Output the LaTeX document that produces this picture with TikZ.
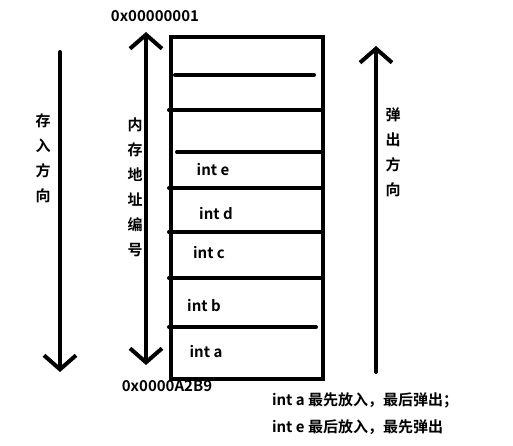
\documentclass[tikz,border=0pt]{standalone}
\usepackage{fontspec}
\setmainfont{Noto Sans CJK SC}[BoldFont={Noto Sans CJK SC Bold}]
\usetikzlibrary{arrows.meta}

\begin{document}
\begin{tikzpicture}[x=1pt, y=-1pt, line width=4pt, line cap=round,
    every node/.style={inner sep=0pt, font=\bfseries\fontsize{15}{25}\selectfont},
    vtext/.style={align=center},
    arr/.style={-{Straight Barb[length=14pt, width=32pt]}}]
    \useasboundingbox (0,0) rectangle (513,446);
    % the stack
    \node[draw, line cap=butt, minimum width=152pt, minimum height=342pt, anchor=north west] (stack) at (169,35) {};
    \draw (175,75) -- (314,75);
    \draw (177,152) -- (321,152);
    \draw (169,327) -- (316,327);
    \foreach \y in {110,188,232,278}
        \draw (169,\y) -- (321,\y);
    \foreach \n/\x/\y in {a/206/352, b/204/306, c/209/253, d/216/214, e/213/170}
        \node (int\n) at (\x,\y) {int \n};
    % addresses
    \node (addrhigh) at (155,16) {0x00000001};
    \node (addrlow) at (167,386) {0x0000A2B9};
    \coordinate (addrtop) at (146,32);
    \coordinate (addrbot) at (146,365);
    \draw[{Straight Barb[length=14pt, width=32pt]}-{Straight Barb[length=14pt, width=32pt]}] (addrtop) -- (addrbot);
    \node[vtext] (addr) at (135,187) {内\\存\\地\\址\\编\\号};
    % push direction
    \coordinate (pushtop) at (60,52);
    \coordinate (pushbot) at (60,372);
    \draw[arr] (pushtop) -- (pushbot);
    \node[vtext] (push) at (43,158) {存\\入\\方\\向};
    % pop direction
    \coordinate (popbot) at (376,372);
    \coordinate (poptop) at (376,46);
    \draw[arr] (popbot) -- (poptop);
    \node[vtext] (pop) at (393,152) {弹\\出\\方\\向};
    % note
    \node[anchor=west] (note1) at (270,400) {int a 最先放入，最后弹出；};
    \node[anchor=west] (note2) at (270,427) {int e 最后放入，最先弹出};
\end{tikzpicture}
\end{document}
